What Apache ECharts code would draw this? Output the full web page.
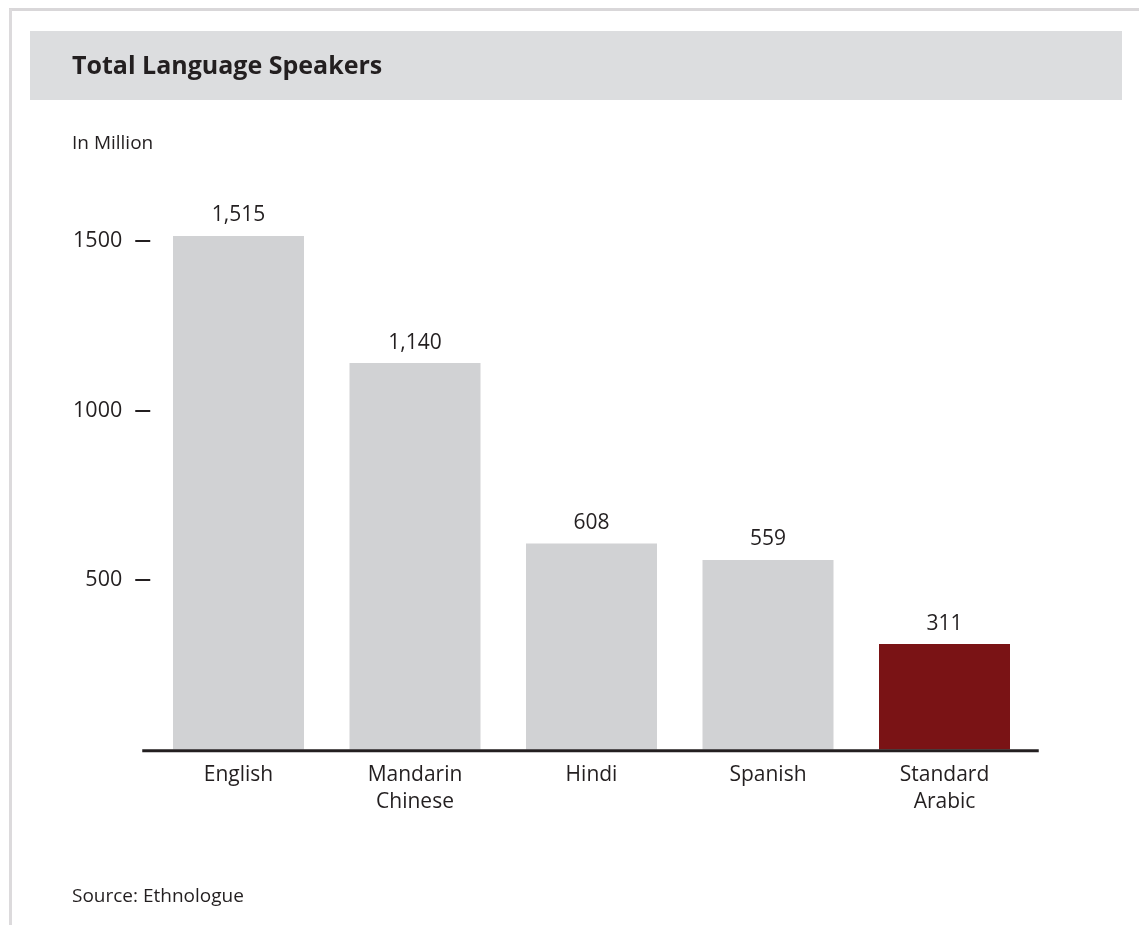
<!DOCTYPE html>
<html>
<head>
<meta charset="utf-8">
<title>Total Language Speakers</title>
<script src="https://cdn.jsdelivr.net/npm/echarts@6/dist/echarts.min.js"></script>
<style>
  html, body { margin: 0; padding: 0; background: #ffffff; }
  #chart { width: 1139px; height: 925px; }
</style>
</head>
<body>
<div id="chart"></div>
<script>
// Total speakers per language, in millions
const languages = ['English', 'Mandarin\nChinese', 'Hindi', 'Spanish', 'Standard\nArabic'];
const speakers = [1515, 1140, 608, 559, 311];
const highlighted = 'Standard\nArabic';
const yTicks = [500, 1000, 1500];

const TEXT = '#231f20';
const BAR_GREY = '#d1d2d4';
const BAR_RED = '#7a1315';
const FONT = '"Open Sans", "Noto Sans", sans-serif';

const chart = echarts.init(document.getElementById('chart'), null, { renderer: 'canvas' });

const option = {
  backgroundColor: '#ffffff',
  animation: false,
  textStyle: { fontFamily: FONT, color: TEXT },
  grid: { left: 150.25, right: 106.25, top: 139.3, bottom: 175.5, containLabel: false },
  xAxis: {
    type: 'category',
    data: languages,
    axisLine: { show: false },
    axisTick: { show: false },
    axisLabel: {
      color: TEXT, fontFamily: FONT, fontSize: 21, lineHeight: 27, margin: 12,
      interval: 0
    }
  },
  yAxis: {
    type: 'value',
    min: 0, max: 1800, interval: 500,
    splitLine: { show: false },
    axisLine: { show: false },
    axisTick: {
      show: true, length: 15, customValues: yTicks,
      lineStyle: { color: TEXT, width: 2 }
    },
    axisLabel: {
      customValues: yTicks,
      formatter: v => String(v),
      color: TEXT, fontFamily: FONT, fontSize: 21.5, margin: 28
    }
  },
  series: [{
    type: 'bar',
    barWidth: 131,
    data: speakers.map((v, i) => ({
      value: v,
      itemStyle: { color: languages[i] === highlighted ? BAR_RED : BAR_GREY }
    })),
    label: {
      show: true, position: 'top', distance: 10,
      color: TEXT, fontFamily: FONT, fontSize: 21,
      formatter: p => p.value.toLocaleString('en-US')
    }
  }],
  graphic: [
    // page frame
    { type: 'line', shape: { x1: 9, y1: 9.5, x2: 1139, y2: 9.5 }, style: { stroke: '#d9d7d9', lineWidth: 3 } },
    { type: 'line', shape: { x1: 10.5, y1: 9, x2: 10.5, y2: 925 }, style: { stroke: '#dcdadc', lineWidth: 3 } },
    // title band
    { type: 'rect', shape: { x: 30, y: 31, width: 1092, height: 69 }, style: { fill: '#dcdddf' } },
    { type: 'text', left: 72, top: 54, style: { text: 'Total Language Speakers', font: 'bold 25px ' + FONT, fill: TEXT } },
    { type: 'text', left: 72, top: 134, style: { text: 'In Million', font: '19px ' + FONT, fill: TEXT } },
    { type: 'text', left: 72, top: 887, style: { text: 'Source: Ethnologue', font: '19px ' + FONT, fill: TEXT } }
  ]
};

chart.setOption(option);

// baseline under the bars, running slightly past the plot on both sides
const zeroLeft = chart.convertToPixel({ gridIndex: 0 }, [languages[0], 0]);
const zeroRight = chart.convertToPixel({ gridIndex: 0 }, [languages[languages.length - 1], 0]);
const halfBand = (zeroRight[0] - zeroLeft[0]) / (languages.length - 1) / 2;
chart.setOption({
  graphic: [{
    type: 'line', id: 'baseline',
    shape: { x1: zeroLeft[0] - halfBand - 8, y1: zeroLeft[1] + 1.2, x2: zeroRight[0] + halfBand + 6, y2: zeroLeft[1] + 1.2 },
    style: { stroke: TEXT, lineWidth: 3 },
    z: 10
  }]
});
</script>
</body>
</html>
